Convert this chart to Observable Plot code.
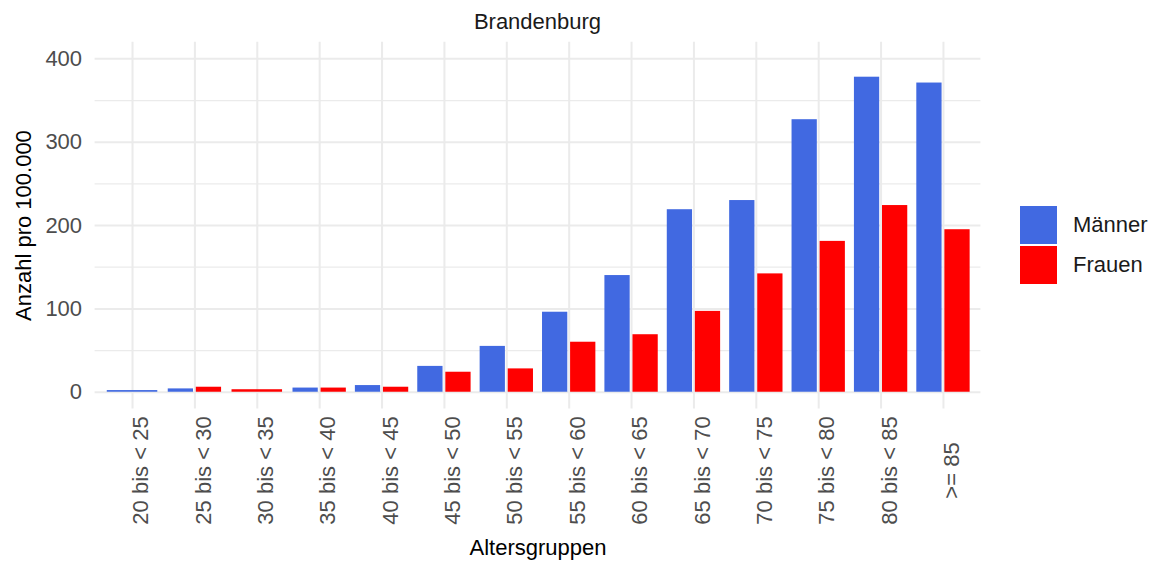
<!DOCTYPE html>
<html>
<head>
<meta charset="utf-8">
<script src="https://cdn.jsdelivr.net/npm/d3@7"></script>
<script src="https://cdn.jsdelivr.net/npm/@observablehq/plot@0.6"></script>
<style>
  body { margin: 0; background: #ffffff; font-family: "Liberation Sans", Arial, sans-serif; }
  #wrap { position: relative; width: 1153px; height: 563px; overflow: hidden; }
  #title { position: absolute; left: 94.6px; width: 885.8px; top: 0; height: 40px; box-sizing: border-box;
           padding-top: 4px; line-height: 36px; font-size: 22px; color: #1a1a1a; text-align: center; }
  #chart { position: absolute; left: 0; top: 40px; }
  #legend { position: absolute; left: 1020px; top: 205px; font-size: 22px; color: #1a1a1a; }
  .item { display: flex; align-items: center; height: 40px; }
  .key { width: 37px; height: 38px; margin-right: 16px; }
</style>
</head>
<body>
<div id="wrap">
  <div id="title">Brandenburg</div>
  <div id="chart"></div>
  <div id="legend"></div>
</div>
<script>
const categories = ["20 bis < 25", "25 bis < 30", "30 bis < 35", "35 bis < 40", "40 bis < 45",
  "45 bis < 50", "50 bis < 55", "55 bis < 60", "60 bis < 65", "65 bis < 70",
  "70 bis < 75", "75 bis < 80", "80 bis < 85", ">= 85"];
const maenner = [2, 4, null, 5, 8, 31, 55, 96, 140, 219, 230, 327, 378, 371];
const frauen  = [null, 6, 3, 5, 6, 24, 28, 60, 69, 97, 142, 181, 224, 195];
const seriesNames = ["Männer", "Frauen"];
const seriesColors = ["#4169E1", "#FF0000"];
const yTicks = [0, 100, 200, 300, 400];
const yMinor = [50, 150, 250, 350];

// dodge2-like layout (width 0.9, padding 0.1), in data units on the category index scale
const seriesValues = [maenner, frauen];
const rows = [];
categories.forEach((c, i) => {
  const present = seriesNames.map((s, k) => ({s, v: seriesValues[k][i]})).filter(d => d.v != null);
  const n = present.length;
  const slot = 0.9 / n;
  present.forEach((d, j) => {
    const center = (i + 1) - 0.45 + slot * (j + 0.5);
    rows.push({cat: c, series: d.s, value: d.v, x1: center - slot * 0.45, x2: center + slot * 0.45});
  });
});

const idx = d3.range(1, categories.length + 1);

const chart = Plot.plot({
  width: 1153,
  height: 523,
  marginTop: 1.7,
  marginBottom: 154.6,
  marginLeft: 94.6,
  marginRight: 172.6,
  style: {fontFamily: "Liberation Sans, Arial, sans-serif", fontSize: "22px", background: "#ffffff"},
  x: {type: "linear", domain: [0.4, categories.length + 0.6]},
  y: {domain: [-20, 420]},
  color: {domain: seriesNames, range: seriesColors},
  marks: [
    Plot.gridY({ticks: yMinor, stroke: "#ebebeb", strokeOpacity: 1, strokeWidth: 1.2}),
    Plot.gridY({ticks: yTicks, stroke: "#ebebeb", strokeOpacity: 1, strokeWidth: 2}),
    Plot.gridX({ticks: idx, stroke: "#ebebeb", strokeOpacity: 1, strokeWidth: 2}),
    Plot.rectY(rows, {x1: "x1", x2: "x2", y1: 0, y2: "value", fill: "series"}),
    Plot.axisY({ticks: yTicks, tickSize: 0, tickPadding: 13, fill: "#4d4d4d", fontSize: 22, label: null}),
    Plot.axisX({ticks: idx, tickFormat: i => categories[i - 1], tickRotate: -90, tickSize: 0,
                tickPadding: 61.6, textAnchor: "middle", lineAnchor: "top", fill: "#4d4d4d", fontSize: 22, label: null}),
    Plot.text(["Altersgruppen"], {frameAnchor: "bottom", dy: 138.6, text: d => d, fill: "#000000",
                fontSize: 22, lineAnchor: "middle"}),
    Plot.text(["Anzahl pro 100.000"], {frameAnchor: "left", dx: -79.6, rotate: -90, text: d => d,
                fill: "#000000", fontSize: 22, lineAnchor: "top", textAnchor: "middle"})
  ]
});
document.getElementById("chart").appendChild(chart);

const legend = document.getElementById("legend");
seriesNames.forEach((s, k) => {
  const item = document.createElement("div");
  item.className = "item";
  const key = document.createElement("div");
  key.className = "key";
  key.style.background = seriesColors[k];
  const lab = document.createElement("span");
  lab.textContent = s;
  item.appendChild(key);
  item.appendChild(lab);
  legend.appendChild(item);
});
</script>
</body>
</html>
